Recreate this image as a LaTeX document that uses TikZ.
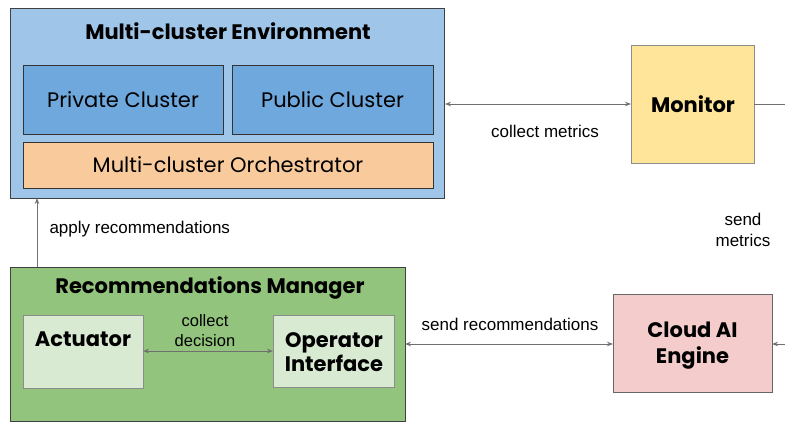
\documentclass[tikz,border=0pt]{standalone}
\usepackage{fontspec}
\setmainfont{Liberation Sans}
\newfontfamily\pop{Poppins}
\usetikzlibrary{arrows.meta}
\definecolor{envblue}{HTML}{9FC5E8}
\definecolor{clblue}{HTML}{6FA8DC}
\definecolor{orch}{HTML}{F9CB9C}
\definecolor{mon}{HTML}{FFE599}
\definecolor{rmgreen}{HTML}{93C47D}
\definecolor{ltgreen}{HTML}{D9EAD3}
\definecolor{aipink}{HTML}{F4CCCC}
\definecolor{linegray}{HTML}{707070}
\begin{document}
\begin{tikzpicture}[x=1pt,y=-1pt,
  title/.style={font=\pop\bfseries\fontsize{21}{25}\selectfont},
  inner/.style={font=\pop\fontsize{21}{25}\selectfont},
  lbl/.style={font=\fontsize{17}{21}\selectfont,align=center},
  conn/.style={draw=linegray,line width=1pt},
  tip/.style={-{Stealth[length=6pt,width=4.5pt]}},
  tips/.style={{Stealth[length=6pt,width=4.5pt]}-{Stealth[length=6pt,width=4.5pt]}}]
\useasboundingbox (0,0) rectangle (785,421);
% Multi-cluster Environment
\draw[fill=envblue,draw=black!75,line width=0.8pt] (10,8) rectangle (444,198);
\node[title] (envt) at (228,31) {Multi-cluster Environment};
\draw[fill=clblue,draw=black!80,line width=0.8pt] (23,65) rectangle (223,134);
\node[inner] (priv) at (123,100) {Private Cluster};
\draw[fill=clblue,draw=black!80,line width=0.8pt] (232,65) rectangle (433,134);
\node[inner] (pub) at (332.5,100) {Public Cluster};
\draw[fill=orch,draw=black!80,line width=0.8pt] (23,142) rectangle (433,188);
\node[inner] (orchn) at (228,165) {Multi-cluster Orchestrator};
\coordinate (envE) at (445,104);
\coordinate (envS) at (37,198);
% Monitor
\draw[fill=mon,draw=black!45,line width=0.8pt] (631,45) rectangle (754,163);
\node[title] (montxt) at (693,104) {Monitor};
\coordinate (monW) at (631,104);
\coordinate (monE) at (754,104);
\coordinate (rightTop) at (785,104);
% Recommendations Manager
\draw[fill=rmgreen,draw=black!75,line width=0.8pt] (10,267) rectangle (405,421);
\node[title] (rmt) at (210,288) {Recommendations Manager};
\coordinate (rmN) at (37,267);
\coordinate (rmE) at (405,344);
\draw[fill=ltgreen,draw=black!45,line width=0.8pt] (23,315) rectangle (143,388);
\node[title] (act) at (83,339) {Actuator};
\coordinate (actE) at (143,351);
\draw[fill=ltgreen,draw=black!45,line width=0.8pt] (273,315) rectangle (394,387);
\node[title,align=center] (opi) at (334,352) {Operator\\[-1pt]Interface};
\coordinate (opiW) at (273,351);
% Cloud AI Engine
\draw[fill=aipink,draw=black!60,line width=0.8pt] (613,294) rectangle (772,392);
\node[title,align=center] (ai) at (692.5,345.5) {Cloud AI\\[1.5pt]Engine};
\coordinate (aiW) at (613,344);
\coordinate (aiE) at (772,344);
\coordinate (rightBot) at (785,344);
% connectors
\draw[conn,tips] (envE) -- (monW);
\node[lbl] (cm) at (545,131) {collect metrics};
\draw[conn] (monE) -- (rightTop);
\node[lbl] (sm) at (743,230) {send\\metrics};
\draw[conn,tip] (rightBot) -- (aiE);
\draw[conn,tips] (rmE) -- (aiW);
\node[lbl] (sr) at (510,324) {send recommendations};
\draw[conn,tip] (rmN) -- (envS);
\node[lbl,anchor=west] (ar) at (46,229) {apply recommendations};
\draw[conn,tips] (actE) -- (opiW);
\node[lbl,font=\fontsize{16.5}{20}\selectfont] (cd) at (205,331) {collect\\decision};
\end{tikzpicture}
\end{document}
